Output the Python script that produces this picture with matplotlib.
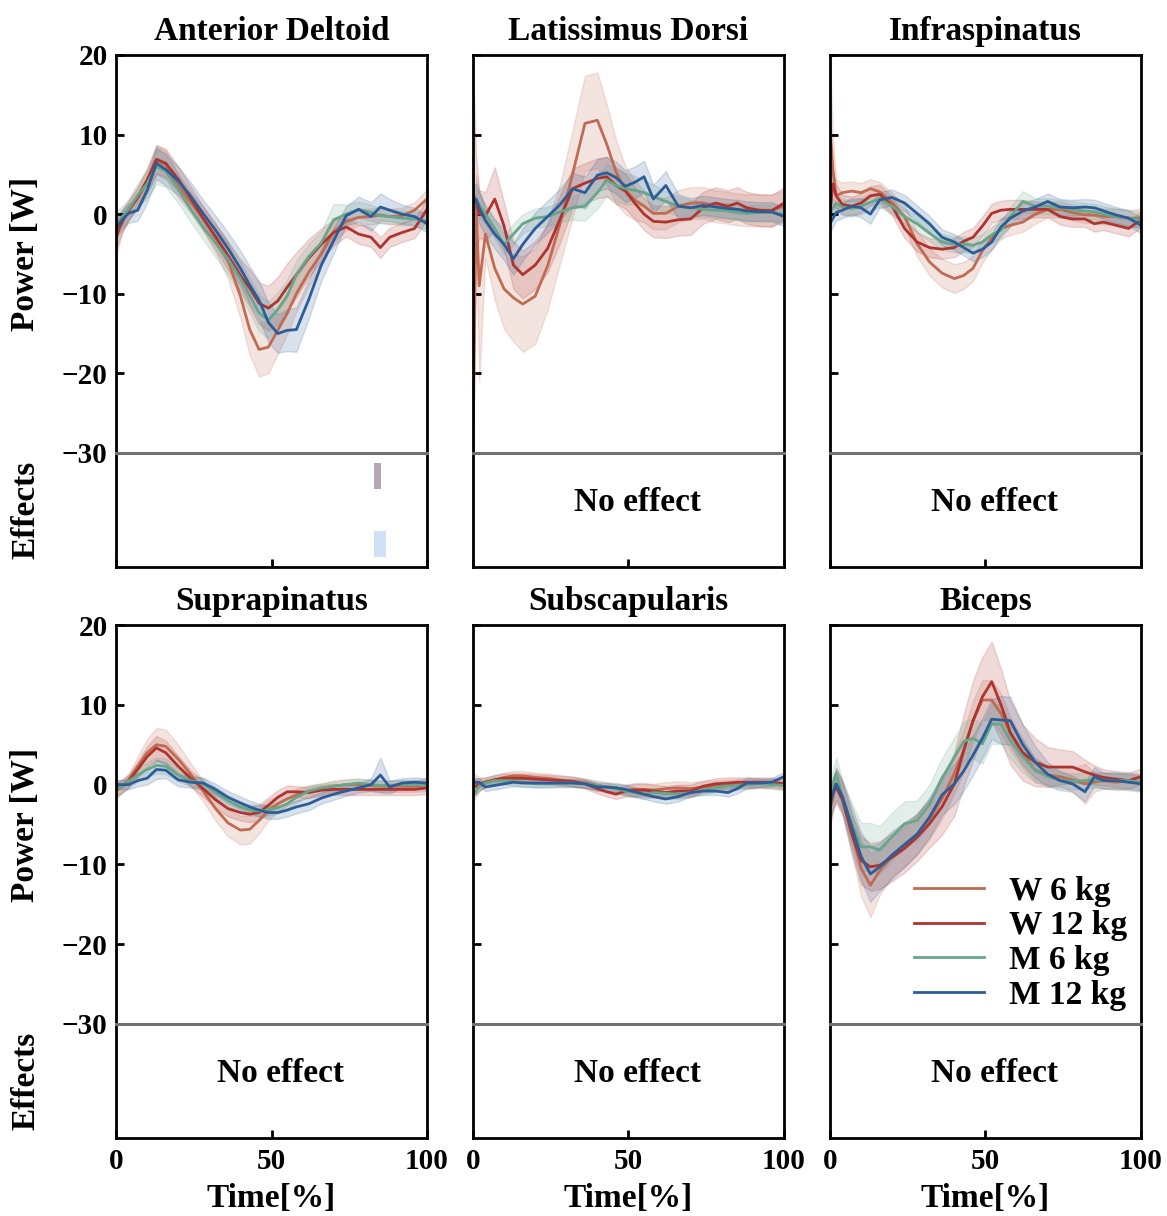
import numpy as np
import matplotlib
matplotlib.use('Agg')
import matplotlib.pyplot as plt

plt.rcParams['font.family'] = ['Liberation Serif', 'DejaVu Serif']
plt.rcParams['font.weight'] = 'bold'
plt.rcParams['axes.labelweight'] = 'bold'
plt.rcParams['axes.titleweight'] = 'bold'

## time grid [% of cycle]
T = [0, 1, 2, 4, 7, 10, 13, 16, 20, 24, 28, 32, 36, 40, 43, 46, 49, 52, 55, 58, 62, 66, 70, 74, 78, 82, 85, 88, 92, 96, 100]

LABELS = ['W 6 kg', 'W 12 kg', 'M 6 kg', 'M 12 kg']
COLORS = ['#C06B52', '#AF3430', '#67A68A', '#2C5D99']
MUSCLES = ['Anterior Deltoid', 'Latissimus Dorsi', 'Infraspinatus',
           'Suprapinatus', 'Subscapularis', 'Biceps']

## Anterior Deltoid
AD_W6 = [-2.9, -1.8, -0.8, 0.5, 2.0, 4.0, 6.8, 6.2, 3.6, 1.5, -0.6, -3.0, -5.8, -10.3, -14.5, -17.0, -16.7, -14.6, -12.5, -10.0, -7.3, -5.0, -2.2, -0.9, -0.4, -0.3, -0.1, -0.3, -0.2, 0.5, 1.9]
AD_W12 = [-2.9, -1.8, -1.0, 0.4, 2.2, 4.3, 6.9, 6.4, 4.4, 2.0, -0.5, -2.8, -5.2, -7.7, -9.3, -11.2, -11.8, -10.9, -9.2, -7.6, -5.5, -3.8, -2.3, -1.6, -2.5, -2.9, -4.2, -2.9, -2.3, -1.8, 0.6]
AD_M6 = [-1.5, -0.8, -0.3, 0.6, 2.4, 3.8, 6.0, 5.4, 3.2, 0.6, -1.6, -3.6, -5.6, -8.1, -10.2, -12.4, -13.3, -12.0, -10.3, -7.6, -5.3, -3.6, -0.7, 0.0, 0.6, 0.2, -0.2, -0.3, -0.5, -0.6, -0.9]
AD_M12 = [-1.8, -1.2, -0.7, 0.1, 0.5, 3.0, 6.4, 5.6, 4.2, 2.3, 0.1, -2.0, -4.3, -6.8, -8.9, -10.8, -13.6, -15.0, -14.6, -14.5, -10.7, -6.4, -3.3, -0.2, 0.6, -0.3, 0.9, 0.5, 0.0, -0.3, -1.2]
AD_W6_SD = [2.5, 2, 1.5, 1.2, 1.3, 1.5, 1.8, 1.8, 1.5, 1.4, 1.5, 1.8, 2.3, 2.8, 3.2, 3.4, 3.3, 3.0, 2.6, 2.2, 1.8, 1.5, 1.3, 1.1, 1.0, 1.0, 1.0, 1.0, 1.0, 1.0, 1.2]
AD_W12_SD = [1.5, 1.5, 1.3, 1.2, 1.3, 1.5, 1.8, 1.8, 1.6, 1.5, 1.5, 1.6, 1.8, 2.0, 2.3, 2.6, 2.8, 3.0, 3.0, 2.8, 2.4, 2.0, 1.6, 1.2, 1.2, 1.2, 1.3, 1.2, 1.2, 1.2, 1.3]
AD_M6_SD = [1.8, 1.5, 1.3, 1.3, 1.5, 1.8, 2.2, 2.0, 1.8, 1.6, 1.6, 1.8, 2.0, 2.1, 2.2, 2.3, 2.3, 2.2, 2.0, 1.8, 1.6, 1.5, 2.0, 1.2, 1.0, 1.0, 0.9, 0.9, 0.9, 0.9, 1.0]
AD_M12_SD = [1.2, 1.2, 1.2, 1.2, 1.3, 1.6, 2.0, 2.0, 1.8, 1.7, 1.7, 1.8, 2.0, 2.2, 2.3, 2.4, 2.5, 2.4, 2.6, 2.8, 2.4, 2.0, 1.6, 1.2, 1.6, 1.8, 1.7, 1.4, 1.2, 1.1, 1.1]

## Latissimus Dorsi
LD_W6 = [-30.0, 1.0, -9.0, -2.5, -6.8, -9.4, -10.5, -11.3, -10.3, -6.5, -1.2, 5.0, 11.4, 11.8, 8.8, 5.3, 3.0, 1.8, 1.0, 0.1, 0.1, 1.0, 1.4, 1.4, 1.0, 0.8, 0.6, 0.5, 0.5, 0.5, 1.0]
LD_W12 = [2.7, 1.5, 0.0, -0.2, 1.9, -1.5, -6.4, -7.6, -6.4, -4.3, -0.6, 3.2, 3.9, 4.5, 4.7, 3.6, 2.9, 1.4, 0.0, -0.9, -1.0, -0.7, -0.6, 0.8, 1.4, 1.0, 1.4, 0.8, 0.5, 0.4, 1.4]
LD_M6 = [2.3, 1.8, 1.2, 0.0, -1.8, -3.8, -2.5, -1.2, -0.5, -0.3, 0.3, 0.8, 1.0, 2.7, 4.3, 3.6, 3.2, 3.0, 2.7, 2.2, 1.6, 1.0, 0.8, 0.6, 0.5, 0.4, 0.2, 0.1, 0.2, 0.2, 0.0]
LD_M12 = [1.4, 1.9, 0.8, -0.8, -2.5, -3.8, -5.6, -3.8, -1.8, -0.3, 1.2, 3.2, 2.7, 4.9, 5.2, 4.6, 3.5, 4.0, 4.7, 1.9, 3.6, 1.0, 0.8, 1.1, 0.9, 0.7, 0.6, 0.4, 0.3, 0.3, -0.3]
LD_W6_SD = [0.5, 4, 12, 3, 4, 5, 5.5, 6, 6, 5.5, 5, 5.5, 6, 6, 5, 4, 3, 2.5, 2, 2, 2, 2, 2, 2, 2, 2, 2, 2, 2, 2, 2]
LD_W12_SD = [16, 6, 3, 3, 4, 3, 3, 3, 3, 3, 3, 2.5, 2.5, 2.5, 2.5, 2.3, 2.2, 2, 2, 2, 2, 2, 2, 2, 2, 2, 2, 2, 2, 2, 2]
LD_M6_SD = [1.5, 1.5, 1.5, 1.2, 1.2, 1.3, 1.3, 1.2, 1.2, 1.2, 1.3, 1.5, 1.8, 2.0, 2.0, 2.0, 2.0, 1.8, 1.6, 1.5, 1.3, 1.2, 1.0, 1.0, 1.0, 1.0, 1.0, 1.0, 1.0, 1.0, 1.0]
LD_M12_SD = [2, 2, 2, 1.8, 1.8, 2, 2, 2, 2, 2, 2, 2, 2, 2, 2, 2, 2, 2, 2, 1.8, 1.8, 1.5, 1.2, 1.2, 1.2, 1.2, 1.2, 1.2, 1.2, 1.2, 1.2]

## Infraspinatus
IS_W6 = [11.0, 5.3, 2.3, 2.7, 2.9, 2.7, 3.2, 2.8, 1.4, -0.3, -3.7, -6.0, -7.4, -8.1, -7.7, -6.8, -4.6, -3.0, -1.8, -1.4, -1.0, 0.0, 0.6, 0.6, 0.2, -0.1, -0.1, -0.3, -0.3, -0.5, -0.5]
IS_W12 = [0.1, 3.8, 2.3, 1.2, 1.0, 1.4, 2.3, 2.5, 1.0, -1.8, -3.5, -4.2, -4.4, -4.2, -3.4, -2.9, -1.5, 0.1, 0.5, 0.6, 0.6, 0.6, 0.6, -0.3, -0.6, -0.6, -1.2, -1.0, -1.4, -1.8, -0.7]
IS_M6 = [0.1, 0.8, 1.4, 0.9, 0.7, 1.0, 1.5, 1.9, 1.0, -0.3, -1.2, -2.4, -3.5, -3.8, -3.8, -3.9, -3.5, -2.6, -2.0, -0.3, 1.6, 1.0, 1.0, 0.8, 0.6, 0.4, 0.3, 0.0, -0.3, -0.5, -0.7]
IS_M12 = [-1.2, -0.5, 0.2, 0.5, 1.0, 0.8, 0.0, 1.8, 2.1, 1.4, 0.1, -1.2, -2.9, -3.5, -4.2, -4.9, -4.4, -3.5, -1.6, -0.5, 0.4, 0.9, 1.6, 0.9, 0.8, 0.9, 0.8, 0.4, -0.1, -0.5, -1.4]
IS_W6_SD = [9, 4, 2, 1.3, 1.2, 1.2, 1.2, 1.2, 1.3, 1.4, 1.6, 1.7, 1.8, 1.8, 1.7, 1.6, 1.5, 1.4, 1.3, 1.2, 1.2, 1.2, 1.0, 1.0, 1.0, 1.0, 1.0, 1.0, 1.0, 1.0, 1.2]
IS_W12_SD = [2, 1.8, 1.5, 1.2, 1.2, 1.2, 1.2, 1.2, 1.2, 1.2, 1.2, 1.2, 1.2, 1.2, 1.2, 1.2, 1.2, 1.2, 1.2, 1.2, 1.2, 1.0, 1.0, 1.0, 1.0, 1.0, 1.0, 1.0, 1.0, 1.0, 1.0]
IS_M6_SD = [1.0, 1.0, 1.0, 1.0, 1.0, 1.0, 1.0, 1.0, 1.0, 1.0, 1.0, 1.0, 1.0, 1.0, 1.0, 1.0, 1.0, 1.0, 1.0, 1.2, 1.3, 1.0, 1.0, 1.0, 1.0, 1.0, 1.0, 1.0, 1.0, 1.0, 1.0]
IS_M12_SD = [1.2, 1.0, 1.0, 1.0, 1.0, 1.2, 1.2, 1.0, 1.0, 1.0, 1.0, 1.0, 1.0, 1.0, 1.0, 1.0, 1.0, 1.0, 1.0, 1.0, 1.0, 1.0, 1.0, 1.0, 1.0, 1.0, 1.0, 1.0, 1.0, 1.0, 1.0]

## Suprapinatus
SS_W6 = [-0.8, -0.5, -0.2, 0.6, 2.3, 4.0, 5.0, 4.8, 3.2, 1.3, -0.8, -3.0, -4.8, -5.7, -5.6, -4.5, -3.2, -2.4, -1.8, -1.3, -0.8, -0.6, -0.2, 0.0, 0.0, -0.1, -0.2, -0.2, -0.2, -0.2, 0.0]
SS_W12 = [-0.6, -0.4, -0.2, 0.4, 1.9, 3.5, 4.6, 4.0, 2.3, 0.8, -0.5, -1.9, -3.0, -3.5, -3.7, -3.5, -2.6, -1.6, -0.9, -0.9, -1.0, -0.7, -0.6, -0.6, -0.6, -0.6, -0.6, -0.6, -0.6, -0.6, -0.4]
SS_M6 = [-0.6, -0.4, -0.2, 0.4, 1.2, 1.9, 2.4, 2.3, 1.2, 0.5, 0.1, -1.0, -2.0, -2.8, -3.2, -3.3, -3.2, -2.9, -2.4, -1.6, -0.8, -0.4, -0.2, 0.0, 0.2, 0.0, -0.1, -0.1, 0.0, 0.0, 0.0]
SS_M12 = [0.0, 0.0, 0.0, 0.0, 0.5, 0.8, 1.9, 1.8, 0.6, 0.3, 0.2, -0.6, -1.6, -2.3, -2.8, -3.2, -3.5, -3.5, -3.2, -2.8, -2.4, -1.7, -1.2, -0.8, -0.4, 0.0, 1.2, -0.3, 0.2, 0.3, 0.2]
SS_W6_SD = [1.0, 0.9, 0.8, 0.8, 1.2, 1.7, 2.1, 2.1, 1.8, 1.4, 1.3, 1.5, 1.7, 1.8, 1.8, 1.6, 1.3, 1.0, 0.8, 0.8, 0.7, 0.7, 0.7, 0.7, 0.7, 0.7, 0.7, 0.7, 0.7, 0.7, 0.8]
SS_W12_SD = [1.0, 0.9, 0.8, 0.8, 1.0, 1.3, 1.5, 1.5, 1.3, 1.0, 1.0, 1.0, 1.0, 1.0, 1.0, 1.0, 1.0, 0.9, 0.8, 0.7, 0.7, 0.7, 0.7, 0.7, 0.7, 0.7, 0.7, 0.7, 0.7, 0.7, 0.8]
SS_M6_SD = [0.8, 0.8, 0.8, 0.8, 0.8, 0.9, 1.0, 1.0, 0.8, 0.7, 0.7, 0.7, 0.7, 0.7, 0.7, 0.7, 0.7, 0.7, 0.7, 0.7, 0.7, 0.6, 0.6, 0.6, 0.6, 0.6, 0.6, 0.6, 0.6, 0.6, 0.6]
SS_M12_SD = [0.6, 0.6, 0.6, 0.6, 0.7, 0.8, 1.2, 1.0, 0.8, 0.7, 0.7, 0.7, 0.8, 0.8, 0.8, 0.8, 0.8, 0.8, 0.8, 0.8, 0.8, 0.7, 0.7, 0.6, 0.6, 0.8, 2.2, 0.8, 0.6, 0.6, 0.6]

## Subscapularis
SC_W6 = [-0.1, 0.0, 0.1, 0.3, 0.6, 0.9, 1.1, 1.1, 0.9, 0.8, 0.6, 0.4, 0.2, -0.1, -0.3, -0.4, -0.7, -0.6, -0.6, -0.7, -0.5, -0.4, -0.5, -0.3, -0.2, -0.1, 0.1, 0.1, 0.2, 0.1, -0.1]
SC_W12 = [-0.3, -0.2, 0.0, 0.3, 0.6, 0.8, 0.8, 0.8, 0.7, 0.6, 0.5, 0.4, 0.1, -0.5, -0.9, -1.2, -0.8, -0.7, -0.7, -0.8, -1.0, -0.8, -0.8, -0.2, 0.1, 0.2, 0.3, 0.3, 0.3, 0.3, 0.1]
SC_M6 = [-1.4, -0.8, -0.2, 0.2, 0.5, 0.5, 0.4, 0.3, 0.1, 0.1, 0.2, 0.2, 0.1, -0.1, -0.3, -0.5, -0.8, -1.0, -1.2, -1.0, -1.1, -1.2, -1.0, -0.7, -0.4, -0.2, -0.1, 0.0, 0.1, 0.0, -0.1]
SC_M12 = [0.3, 0.3, 0.3, -0.3, -0.1, 0.1, 0.3, 0.2, 0.2, 0.2, 0.2, 0.2, 0.1, -0.3, -0.3, -0.4, -0.6, -0.9, -1.2, -1.5, -1.8, -1.5, -1.0, -0.8, -0.8, -1.0, -0.5, 0.2, 0.2, 0.3, 1.0]
SC_W6_SD = [1.5, 1.2, 0.8, 0.6, 0.6, 0.6, 0.6, 0.6, 0.6, 0.6, 0.6, 0.6, 0.6, 0.6, 0.6, 0.6, 0.7, 0.8, 0.8, 0.8, 0.8, 0.8, 0.8, 0.7, 0.7, 0.7, 0.6, 0.6, 0.6, 0.6, 0.6]
SC_W12_SD = [1.0, 1.0, 0.8, 0.6, 0.6, 0.6, 0.6, 0.6, 0.6, 0.6, 0.6, 0.6, 0.6, 0.6, 0.6, 0.6, 0.7, 0.8, 0.8, 0.8, 0.8, 0.8, 0.8, 0.7, 0.7, 0.7, 0.6, 0.6, 0.6, 0.6, 0.6]
SC_M6_SD = [0.8, 0.7, 0.6, 0.5, 0.5, 0.5, 0.5, 0.5, 0.5, 0.5, 0.5, 0.5, 0.5, 0.5, 0.5, 0.5, 0.6, 0.6, 0.6, 0.6, 0.6, 0.6, 0.5, 0.5, 0.5, 0.5, 0.5, 0.5, 0.5, 0.5, 0.5]
SC_M12_SD = [0.5, 0.5, 0.5, 0.5, 0.5, 0.5, 0.5, 0.5, 0.5, 0.5, 0.5, 0.5, 0.5, 0.5, 0.5, 0.5, 0.6, 0.6, 0.6, 0.6, 0.6, 0.6, 0.5, 0.5, 0.5, 0.5, 0.6, 0.7, 0.5, 0.5, 0.6]

## Biceps
BI_W6 = [-3.2, -1.5, 0.1, -1.5, -6.0, -10.5, -12.6, -10.8, -9.0, -7.8, -6.3, -4.3, -1.8, 1.4, 4.3, 8.0, 10.6, 10.6, 8.9, 6.4, 3.9, 1.8, 1.2, 1.0, 0.6, 0.1, 0.3, 0.5, 0.3, 0.5, 0.3]
BI_W12 = [-2.8, -1.0, -0.3, -1.9, -6.2, -9.5, -10.3, -10.1, -9.1, -8.0, -6.6, -4.9, -2.8, 0.1, 4.3, 8.0, 11.0, 12.9, 10.0, 6.5, 4.0, 2.8, 2.2, 2.2, 2.2, 1.6, 1.2, 0.9, 0.7, 0.5, 1.0]
BI_M6 = [-1.5, 0.0, 1.4, -1.5, -4.8, -7.8, -7.8, -8.2, -6.5, -4.9, -4.5, -2.5, 0.8, 3.4, 5.4, 5.8, 5.1, 7.6, 7.6, 5.5, 3.5, 1.8, 1.0, 0.6, 0.4, 0.5, 0.6, 0.5, 0.5, 0.5, 0.3]
BI_M12 = [-2.4, -1.0, 0.1, -1.5, -5.3, -9.0, -11.2, -10.3, -8.8, -7.5, -6.2, -4.1, -1.3, 0.1, 1.7, 3.7, 5.8, 8.2, 8.1, 8.0, 5.0, 2.8, 1.3, 0.5, 0.1, -0.9, 1.0, 0.5, 0.5, 0.3, 0.1]
BI_W6_SD = [2.0, 2.0, 2.0, 2.0, 2.5, 3.5, 4.0, 3.0, 2.5, 2.5, 2.5, 2.5, 2.5, 2.5, 2.5, 2.5, 2.5, 2.5, 2.5, 2.0, 1.8, 1.5, 1.2, 1.2, 1.5, 2.5, 1.2, 1.0, 1.0, 1.0, 1.0]
BI_W12_SD = [2.0, 2.0, 2.0, 2.0, 2.5, 3.0, 3.0, 3.0, 3.0, 3.0, 3.0, 3.0, 3.5, 4.0, 4.5, 5.0, 5.0, 5.0, 4.5, 4.0, 3.5, 3.0, 2.5, 2.2, 2.0, 1.5, 1.2, 1.0, 1.0, 1.0, 1.0]
BI_M6_SD = [2.0, 2.0, 2.0, 2.0, 2.5, 3.0, 3.0, 3.0, 3.0, 2.8, 2.5, 2.5, 2.5, 2.5, 2.5, 2.5, 2.5, 2.5, 2.5, 2.2, 2.0, 1.5, 1.2, 1.0, 1.0, 1.0, 1.0, 1.0, 1.0, 1.0, 1.0]
BI_M12_SD = [2.0, 2.0, 2.0, 2.0, 2.5, 3.0, 3.5, 3.0, 3.0, 2.8, 2.5, 2.5, 2.5, 2.5, 2.5, 2.5, 2.5, 2.5, 3.0, 3.0, 2.5, 2.0, 1.5, 1.2, 1.0, 1.2, 1.2, 1.0, 1.0, 1.0, 1.0]

## significant effects (Anterior Deltoid only): time span [%]
EFFECT_SPANS = [(83.0, 85.2), (83.0, 86.8)]
EFFECT_COLORS = ['#B7A6B5', '#CFE0F7']

MEANS = [[AD_W6, AD_W12, AD_M6, AD_M12], [LD_W6, LD_W12, LD_M6, LD_M12],
         [IS_W6, IS_W12, IS_M6, IS_M12], [SS_W6, SS_W12, SS_M6, SS_M12],
         [SC_W6, SC_W12, SC_M6, SC_M12], [BI_W6, BI_W12, BI_M6, BI_M12]]
SDS = [[AD_W6_SD, AD_W12_SD, AD_M6_SD, AD_M12_SD], [LD_W6_SD, LD_W12_SD, LD_M6_SD, LD_M12_SD],
       [IS_W6_SD, IS_W12_SD, IS_M6_SD, IS_M12_SD], [SS_W6_SD, SS_W12_SD, SS_M6_SD, SS_M12_SD],
       [SC_W6_SD, SC_W12_SD, SC_M6_SD, SC_M12_SD], [BI_W6_SD, BI_W12_SD, BI_M6_SD, BI_M12_SD]]

fig = plt.figure(figsize=(11.67, 12.16), dpi=100)

col_x = [0.0994, 0.4053, 0.7112]
w = 0.2665
rows = [(0.6275, 0.3273, 0.5337), (0.1579, 0.3281, 0.0641)]
h_eff = 0.0938
GRAY = '#707070'
FS = 24

for i, name in enumerate(MUSCLES):
    r, c = divmod(i, 3)
    y_main, h_main, y_eff = rows[r]
    ax = fig.add_axes([col_x[c], y_main, w, h_main])
    ae = fig.add_axes([col_x[c], y_eff, w, h_eff])

    t = np.array(T)
    for k in range(4):
        m = np.array(MEANS[i][k])
        s = np.array(SDS[i][k])
        ax.fill_between(t, m - s, m + s, color=COLORS[k], alpha=0.18, lw=1)
        ax.plot(t, m, color=COLORS[k], lw=2, label=LABELS[k])

    ax.set_xlim(0, 100)
    ax.set_ylim(-30, 20)
    ax.set_yticks([-30, -20, -10, 0, 10, 20])
    ax.set_xticks([])
    ax.tick_params(axis='y', direction='in', length=6, width=2, labelsize=21, pad=6)
    for sp in ax.spines.values():
        sp.set_linewidth(2)
    ax.spines['bottom'].set_visible(False)
    ax.set_title(name, fontsize=FS, fontweight='bold', pad=11)
    if c == 0:
        ax.set_ylabel('Power [W]', fontsize=FS)
        ax.yaxis.set_label_coords(-0.24, 0.5)
    else:
        ax.set_yticklabels([])

    ae.set_xlim(0, 100)
    ae.set_ylim(0, 1)
    ae.set_yticks([])
    ae.set_xticks([0, 50, 100])
    ae.tick_params(axis='x', direction='in', length=6, width=2, labelsize=21, pad=7)
    for sp in ae.spines.values():
        sp.set_linewidth(2)
    ae.spines['top'].set_color(GRAY)
    ae.spines['top'].set_linewidth(2.2)
    if r == 0:
        ae.set_xticklabels([])
    else:
        ae.set_xlabel('Time[%]', fontsize=FS, labelpad=6)
    if c == 0:
        ae.set_ylabel('Effects', fontsize=FS)
        ae.yaxis.set_label_coords(-0.24, 0.5)

    if i == 0:
        (a0, a1), (b0, b1) = EFFECT_SPANS
        ae.axvspan(a0, a1, ymin=0.68, ymax=0.91, color=EFFECT_COLORS[0], lw=0)
        ae.axvspan(b0, b1, ymin=0.09, ymax=0.32, color=EFFECT_COLORS[1], lw=0)
    else:
        ae.text(0.53, 0.57, 'No effect', transform=ae.transAxes, ha='center', va='center',
                fontsize=FS, fontweight='bold')

    if i == 5:
        ax.legend(loc='lower right', frameon=False, fontsize=FS, handlelength=2.1,
                  handletextpad=0.75, labelspacing=0.11, borderaxespad=0.2,
                  borderpad=0.2, bbox_to_anchor=(1.0, 0.0))

fig.savefig('out.png', dpi=100)
